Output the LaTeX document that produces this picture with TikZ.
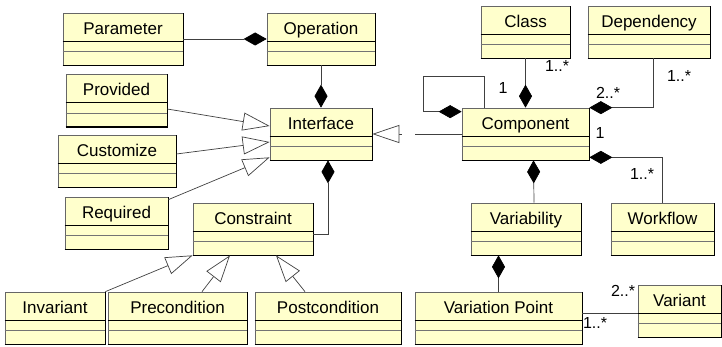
\documentclass[tikz,border=0pt]{standalone}
\usepackage{fontspec}
\setmainfont{Liberation Sans}
\usepackage{tikz}
\usetikzlibrary{positioning}
\usetikzlibrary{calc,arrows.meta}
\definecolor{classfill}{RGB}{255,255,204}
\tikzstyle{umlclass}=[rectangle,fill=classfill,draw=black!60,line width=0.7pt,minimum height=52pt,inner sep=0pt,text height=13pt,text depth=22.5pt,font=\fontsize{17}{20}\selectfont]
\tikzstyle{compose} = [draw,black!75,line width=0.7pt,{Diamond[length=23pt,width=13pt,fill=black,color=black]}-]
\tikzstyle{generalize} = [draw,black!75,line width=0.7pt,-{Triangle[open,length=27pt,width=18pt,fill=white]}]
\tikzstyle{assoc} = [draw,black!75,line width=0.7pt]
\tikzstyle{mult} = [inner sep=0pt,font=\fontsize{16}{19}\selectfont]

\begin{document}
\begin{tikzpicture}[x=1pt,y=1pt]
    \useasboundingbox (0,0) rectangle (722,346);
    % First we draw the classes
    \foreach \name/\pos/\boxw/\txt in {param/{(123,307)}/120/Parameter, oper/{(321,307)}/108/Operation,
        prov/{(116.5,245.5)}/101/Provided, iface/{(321,212)}/102/Interface, cust/{(117,185)}/118/Customize,
        req/{(116.5,123)}/103/Required, constr/{(253,117)}/120/Constraint,
        inv/{(55,28)}/100/Invariant, prec/{(177.5,28)}/139/Precondition, post/{(328,28)}/146/Postcondition,
        class/{(525.5,314)}/89/Class, dep/{(649,314)}/122/Dependency, comp/{(525.5,212)}/127/Component,
        variab/{(526,117)}/110/Variability, work/{(662.5,117)}/103/Workflow,
        vpoint/{(498.5,28)}/167/Variation Point, variant/{(679.5,35)}/83/Variant}
        \node[umlclass,minimum width=\boxw pt] (\name) at \pos {\txt};
    % compartments and shadow edges
    \foreach \name in {param,oper,prov,iface,cust,req,constr,inv,prec,post,class,dep,comp,variab,work,vpoint,variant} {
        \draw[black,line width=0.8pt] ($(\name.north west)+(0,-28.5)$) -- ($(\name.north east)+(0,-28.5)$);
        \draw[black!55,line width=1pt] ($(\name.north west)+(0,-39)$) -- ($(\name.north east)+(0,-39)$);
        \draw[black,line width=1.4pt] (\name.south west) -- (\name.south east) -- (\name.north east);
    }

    % Compositions
    \path[compose] (oper.west) -- (param.east);
    \path[compose] (iface.north) -- (oper.south);
    \path[compose] ([xshift=7pt]iface.south) |- ([yshift=-5pt]constr.east);
    \path[compose] (comp.north) -- (class.south);
    \path[compose] (comp.north east) -| ([xshift=4pt]dep.south);
    \path[compose] ([yshift=-4pt]comp.north west) -- ++(-38,0) -- ++(0,35) -| ([xshift=23pt]comp.north west);
    \path[compose] ([yshift=3pt]comp.south east) -| (work.north);
    \path[compose] ([xshift=8pt]comp.south) -- ([xshift=8pt]variab.north);
    \path[compose] (variab.south -| vpoint.north) -- (vpoint.north);
    \path[assoc] ([yshift=5pt]vpoint.east) -- ([yshift=-2pt]variant.west);

    % Generalizations
    \path[generalize] ([yshift=-8.5pt]prov.east) -- ([yshift=8pt]iface.west);
    \path[generalize] ([yshift=7pt]cust.east) -- ([yshift=-8pt]iface.west);
    \path[generalize] ([yshift=-3pt]req.north east) -- ([yshift=3pt]iface.south west);
    \path[generalize] (inv.north east) -- (constr.south west);
    \path[generalize] ([xshift=24.5pt]prec.north) -- ([xshift=-23pt]constr.south);
    \path[generalize] ([xshift=-23pt]post.north) -- ([xshift=23pt]constr.south);
    \path[generalize,dash pattern=on 47pt off 13pt] (comp.west) -- (iface.east);

    % multiplicities
    \node[mult] (mclass) at (557,280) {1..*};
    \node[mult] (mself) at (503,258) {1};
    \node[mult] (mdepcomp) at (608,253) {2..*};
    \node[mult] (mdep) at (679,270) {1..*};
    \node[mult] (mcomp) at (600,213) {1};
    \node[mult] (mwork) at (642,172) {1..*};
    \node[mult] (mvariant) at (623,55) {2..*};
    \node[mult] (mvpoint) at (595,23) {1..*};
\end{tikzpicture}
\end{document}
